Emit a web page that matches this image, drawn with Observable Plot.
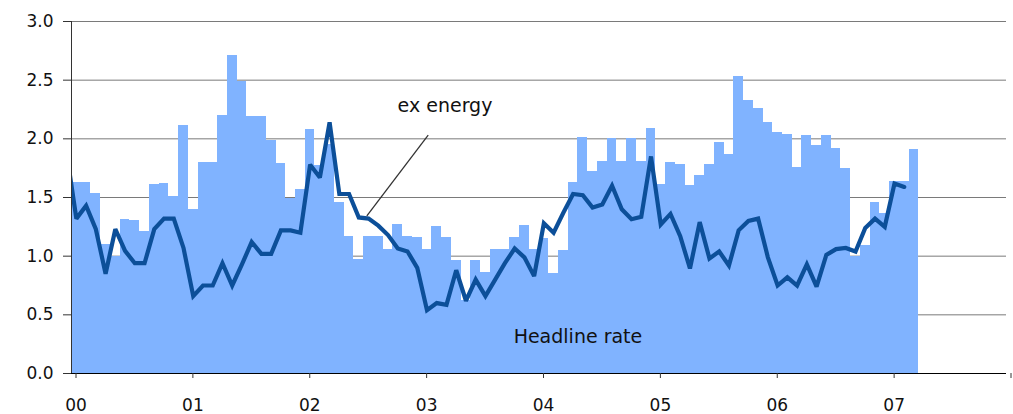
<!DOCTYPE html>
<html><head><meta charset="utf-8">
<script src="https://cdn.jsdelivr.net/npm/d3@7"></script>
<script src="https://cdn.jsdelivr.net/npm/@observablehq/plot@0.6"></script>
<style>body{margin:0;background:#fff} svg{display:block}</style>
</head><body><div id="chart"></div>
<script>
// Monthly data, first bar = Jan 2000
const startYear = 2000;
const headline = [
  1.63, 1.63, 1.53, 1.10, 1.00, 1.31, 1.30, 1.21, 1.61, 1.62, 1.51, 2.11,
  1.40, 1.80, 1.80, 2.20, 2.71, 2.49, 2.19, 2.19, 1.99, 1.79, 1.49, 1.57,
  2.08, 1.77, 1.95, 1.46, 1.165, 0.97, 1.165, 1.165, 1.06, 1.27, 1.17, 1.16,
  1.06, 1.25, 1.155, 0.96, 0.62, 0.96, 0.86, 1.055, 1.055, 1.155, 1.26, 1.055,
  1.15, 0.85, 1.05, 1.625, 2.01, 1.72, 1.81, 2.00, 1.81, 2.00, 1.81, 2.085,
  1.61, 1.795, 1.785, 1.60, 1.685, 1.78, 1.965, 1.865, 2.53, 2.33, 2.26, 2.14,
  2.05, 2.04, 1.755, 2.03, 1.94, 2.025, 1.92, 1.745, 1.00, 1.09, 1.46, 1.365,
  1.64, 1.635, 1.905
];
// ex energy line, first value = Dec 1999 (clipped at the axis)
const exEnergyStartMonth = -1;
const exEnergy = [
  1.88,
  1.32, 1.43, 1.23, 0.85, 1.23, 1.045, 0.94, 0.94, 1.23, 1.32, 1.32, 1.07,
  0.66, 0.75, 0.75, 0.94, 0.75, 0.93, 1.12, 1.02, 1.02, 1.22, 1.22, 1.20,
  1.78, 1.67, 2.14, 1.53, 1.53, 1.33, 1.32, 1.26, 1.18, 1.065, 1.04, 0.90,
  0.54, 0.60, 0.585, 0.88, 0.62, 0.80, 0.66, 0.80, 0.94, 1.065, 0.99, 0.83,
  1.28, 1.20, 1.37, 1.53, 1.52, 1.415, 1.44, 1.60, 1.40, 1.315, 1.335, 1.85,
  1.27, 1.36, 1.17, 0.895, 1.29, 0.98, 1.04, 0.92, 1.22, 1.30, 1.32, 0.99,
  0.75, 0.82, 0.75, 0.93, 0.74, 1.01, 1.06, 1.07, 1.04, 1.24, 1.32, 1.25,
  1.62, 1.59
];
const yearTicks = [2000, 2001, 2002, 2003, 2004, 2005, 2006, 2007, 2008];
const yearLabels = ["00", "01", "02", "03", "04", "05", "06", "07", ""];
const yTicks = [0, 0.5, 1.0, 1.5, 2.0, 2.5, 3.0];
// annotations (data coordinates)
const labels = [
  {text: "ex energy", x: 2002.79, y: 2.227},
  {text: "Headline rate", x: 2003.783, y: 0.264}
];
const leader = [{x1: 2003.052, y1: 2.031, x2: 2002.527, y2: 1.344}];

const bars = headline.map((v, i) => ({x1: startYear + i / 12, x2: startYear + (i + 1) / 12, v}));
const line = exEnergy.map((v, i) => ({x: startYear + (i + exEnergyStartMonth + 0.5) / 12, v}));

const chart = Plot.plot({
  width: 1013, height: 414,
  marginLeft: 71, marginRight: 7, marginTop: 21, marginBottom: 41,
  style: {fontFamily: "DejaVu Sans", fontSize: "17px", color: "#111", background: "#fff", overflow: "visible"},
  x: {domain: [2000, 2008]},
  y: {domain: [0, 3]},
  marks: [
    Plot.gridY(yTicks, {stroke: "#7a7a7a", strokeOpacity: 1, strokeWidth: 1}),
    Plot.rectY(bars, {x1: "x1", x2: "x2", y: "v", fill: "#80b3ff", shapeRendering: "crispEdges"}),
    Plot.line(line, {x: "x", y: "v", stroke: "#0c4f99", strokeWidth: 4.2, strokeLinejoin: "miter", strokeMiterlimit: 2.5, clip: true}),
    Plot.ruleX([2000], {stroke: "#333"}),
    Plot.ruleY([0], {stroke: "#000"}),
    Plot.axisY(yTicks, {tickSize: 8, tickPadding: 10, tickFormat: d3.format(".1f"), label: null, stroke: "#333", fill: "#111"}),
    Plot.axisX(yearTicks, {tickSize: 5, tickPadding: 20, tickFormat: d => yearLabels[yearTicks.indexOf(d)] ?? "", dx: 4.5, label: null, stroke: "#333", fill: "#111"}),
    Plot.link(leader, {x1: "x1", y1: "y1", x2: "x2", y2: "y2", stroke: "#333", strokeWidth: 1.3}),
    Plot.text(labels, {x: "x", y: "y", text: "text", textAnchor: "start", lineAnchor: "bottom", fontSize: 19, fill: "#111"})
  ]
});
document.getElementById("chart").appendChild(chart);
</script>
</body></html>
